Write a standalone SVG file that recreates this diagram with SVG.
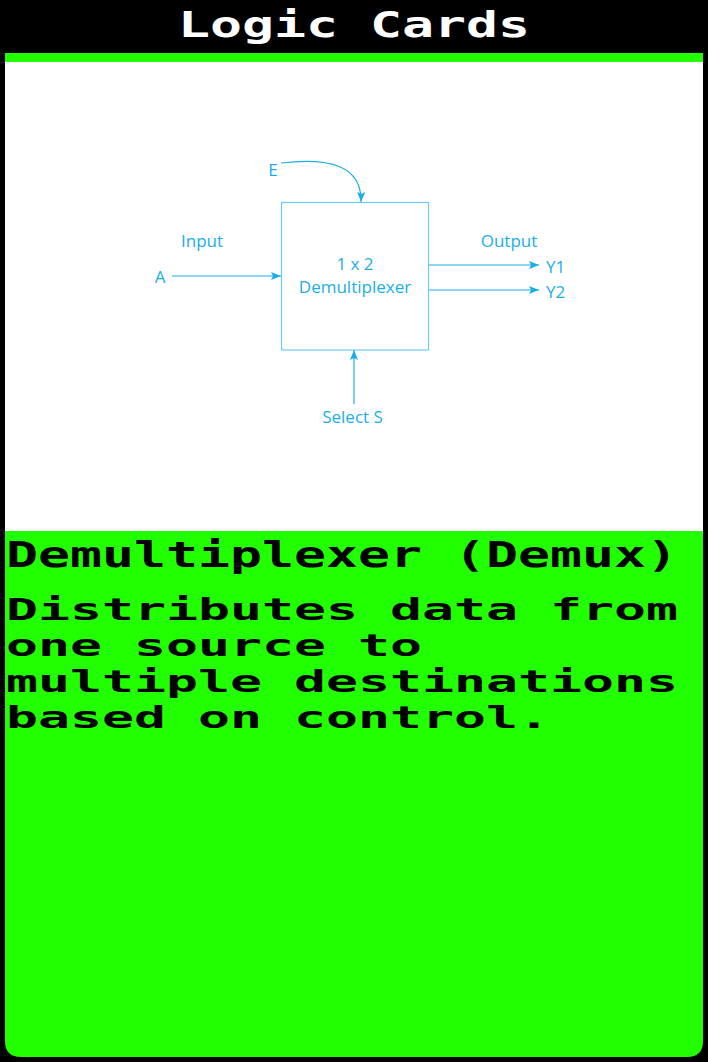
<svg xmlns="http://www.w3.org/2000/svg" width="708" height="1062" viewBox="0 0 708 1062">
<defs>
<style>
.pix{font-family:"DejaVu Sans Mono","Liberation Mono",monospace;font-weight:bold}
.title{fill:#ffffff;font-size:36px}
.body{fill:#000000;font-size:31px}
.head{fill:#000000;font-size:35px}
.lbl{font-family:"Open Sans","Noto Sans",sans-serif;font-size:17px;fill:#1aaee8}
.wire{stroke:#1aaee8;stroke-width:1.2;fill:none}
</style>
<marker id="arr" markerUnits="userSpaceOnUse" markerWidth="10" markerHeight="10" viewBox="0 0 10 10" refX="10" refY="5" orient="auto">
<path d="M0,1 L10,5 L0,9 L2,5 Z" fill="#1aaee8"/>
</marker>
</defs>
<rect x="0" y="0" width="708" height="1062" fill="#000"/>
<g id="header">
<text class="pix title" x="178" y="37" textLength="352" lengthAdjust="spacingAndGlyphs">Logic Cards</text>
<rect x="5" y="53" width="698" height="9" fill="#22ff00"/>
</g>
<rect x="5" y="62" width="698" height="469" fill="#ffffff"/>
<path d="M5 531 H703 V1041 Q703 1057 687 1057 H21 Q5 1057 5 1041 Z" fill="#22ff00"/>
<g id="connectors">
<line class="wire" x1="172" y1="276" x2="281" y2="276" marker-end="url(#arr)"/>
<path class="wire" d="M281 163 C330 157 362 166 361 202" marker-end="url(#arr)"/>
<line class="wire" x1="429" y1="265" x2="539" y2="265" marker-end="url(#arr)"/>
<line class="wire" x1="429" y1="290" x2="539" y2="290" marker-end="url(#arr)"/>
<line class="wire" x1="354" y1="404" x2="354" y2="350" marker-end="url(#arr)"/>
</g>
<g id="demux">
<rect x="281.5" y="202.5" width="147" height="147.5" fill="none" stroke="#6ccbf0" stroke-width="1.2"/>
<text class="lbl" x="355" y="270" text-anchor="middle">1 x 2</text>
<text class="lbl" x="355" y="293" text-anchor="middle">Demultiplexer</text>
</g>
<g id="input-a">
<text class="lbl" x="202" y="247" text-anchor="middle">Input</text>
<text class="lbl" x="160" y="283" text-anchor="middle">A</text>
</g>
<g id="enable-e">
<text class="lbl" x="273" y="176" text-anchor="middle">E</text>
</g>
<g id="outputs">
<text class="lbl" x="509" y="247" text-anchor="middle">Output</text>
<text class="lbl" x="546" y="273">Y1</text>
<text class="lbl" x="546" y="298">Y2</text>
</g>
<g id="select-s">
<text class="lbl" x="352.5" y="423" text-anchor="middle">Select S</text>
</g>
<g id="description">
<text class="pix head" x="6" y="567" textLength="672" lengthAdjust="spacingAndGlyphs">Demultiplexer (Demux)</text>
<text class="pix body" x="6" y="620" textLength="672" lengthAdjust="spacingAndGlyphs">Distributes data from</text>
<text class="pix body" x="6" y="656" textLength="416" lengthAdjust="spacingAndGlyphs">one source to</text>
<text class="pix body" x="6" y="692" textLength="672" lengthAdjust="spacingAndGlyphs">multiple destinations</text>
<text class="pix body" x="6" y="728" textLength="544" lengthAdjust="spacingAndGlyphs">based on control.</text>
</g>
</svg>
